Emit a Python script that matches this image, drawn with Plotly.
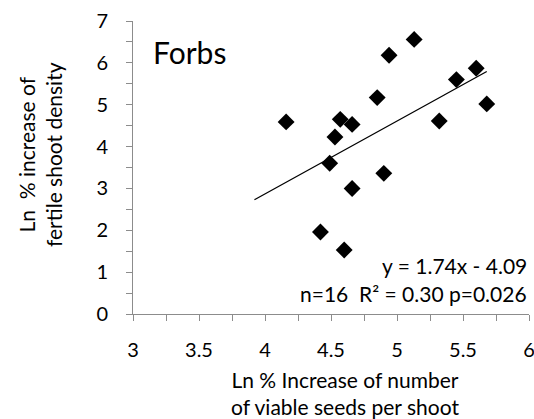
import plotly.graph_objects as go

# Data
x_vals = [4.16, 4.49, 4.53, 4.57, 4.66, 4.85, 4.94, 5.13, 5.32, 5.45, 5.60, 5.68, 4.90, 4.66, 4.42, 4.60]
y_vals = [4.59, 3.60, 4.23, 4.65, 4.53, 5.17, 6.18, 6.56, 4.61, 5.60, 5.87, 5.02, 3.36, 3.00, 1.96, 1.53]
slope = 1.74
intercept = -4.09
trend_x = [3.92, 5.68]
trend_y = [slope * v + intercept for v in trend_x]

FONT = "Lato"
AXC = "#8c8c8c"

fig = go.Figure()
fig.add_trace(go.Scatter(x=trend_x, y=trend_y, mode="lines",
                         line=dict(color="black", width=1.3), showlegend=False))
fig.add_trace(go.Scatter(x=x_vals, y=y_vals, mode="markers",
                         marker=dict(symbol="diamond", size=13, color="black", line=dict(width=0)),
                         showlegend=False))

fig.update_layout(
    width=534, height=419,
    margin=dict(l=133, r=5, t=21, b=105, autoexpand=False),
    paper_bgcolor="white", plot_bgcolor="white",
    font=dict(family=FONT, size=19, color="black"),
    xaxis=dict(range=[3, 6], dtick=0.5, tick0=3, showgrid=False, zeroline=False,
               showline=True, linecolor=AXC, linewidth=1,
               ticks="outside", ticklen=6, tickcolor=AXC,
               minor=dict(dtick=0.25, ticks="outside", ticklen=6, tickcolor=AXC),
               automargin=False,
               ticklabelstandoff=12, ticklabeloverflow="allow", tickfont=dict(size=20)),
    yaxis=dict(range=[0, 7], dtick=1, tick0=0, showgrid=False, zeroline=False,
               showline=True, linecolor=AXC, linewidth=1,
               ticks="outside", ticklen=6, tickcolor=AXC,
               minor=dict(dtick=0.5, ticks="outside", ticklen=6, tickcolor=AXC),
               automargin=False,
               ticklabelstandoff=14, tickfont=dict(size=20)),
    annotations=[
        dict(text="Forbs", xref="paper", yref="paper", x=(151-133)/396, y=(314-52)/293, xanchor="left", yanchor="middle",
             showarrow=False, font=dict(size=30)),
        dict(text="y = 1.74x - 4.09", xref="paper", yref="paper", x=1.0, y=(314-265)/293, xanchor="right",
             yanchor="middle", showarrow=False, font=dict(size=21)),
        dict(text="n=16  R² = 0.30 p=0.026", xref="paper", yref="paper", x=1.0, y=(314-293)/293,
             xanchor="right", yanchor="middle", showarrow=False, font=dict(size=21)),
        dict(text="Ln % Increase of number<br>of viable seeds per shoot", xref="paper", yref="paper",
             x=(345-133)/396, y=-(393-314)/293, xanchor="center", yanchor="middle", showarrow=False,
             font=dict(size=21)),
        dict(text="Ln  % increase of<br>fertile shoot density", xref="paper", yref="paper",
             x=-(133-40)/396, y=(314-155)/293, xanchor="center", yanchor="middle", showarrow=False,
             textangle=-90, font=dict(size=21)),
    ],
)

fig.write_html("out.html", config={"displayModeBar": False},
               post_script="document.body.style.margin='0';")
